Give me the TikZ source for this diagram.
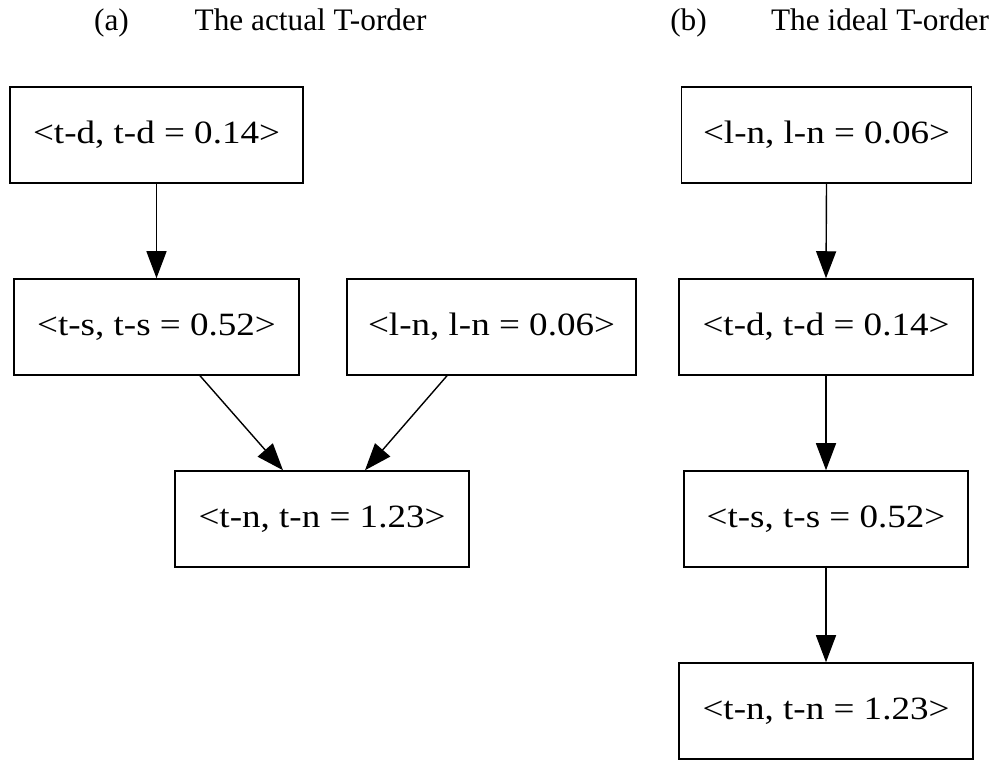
\documentclass[tikz,border=0pt]{standalone}
\usepackage{fontspec}
\setmainfont{Liberation Serif}
\newfontfamily\nodefont[FakeStretch=1.14]{Liberation Serif}
\usetikzlibrary{arrows.meta}
\tikzset{
  x=1pt,y=1pt,
  box/.style={draw, line width=1.5pt, inner sep=0pt, minimum height=96pt,
    font=\nodefont\fontsize{32.5}{38}\selectfont},
  edge/.style={line width=1.4pt, -{Triangle[length=27pt,width=20pt]}},
  ttl/.style={anchor=base, inner sep=0pt, font=\fontsize{31.3}{36}\selectfont}
}
\begin{document}
\begin{tikzpicture}
\useasboundingbox (0,0) rectangle (995,760);
% titles
\node[ttl] (ta) at (111.5,729) {(a)};
\node[ttl] (tat) at (310.5,729) {The actual T-order};
\node[ttl] (tb) at (688.5,729) {(b)};
\node[ttl] (tbt) at (880,729) {The ideal T-order};
% (a)
\node[box, minimum width=293pt] (A1) at (156.5,625) {<t-d, t-d = 0.14>};
\node[box, minimum width=285pt] (A2) at (156.5,433) {<t-s, t-s = 0.52>};
\node[box, minimum width=289pt] (A3) at (491.5,433) {<l-n, l-n = 0.06>};
\node[box, minimum width=294pt] (A4) at (322,241) {<t-n, t-n = 1.23>};
\draw[edge] (A1.south) -- (A2.north);
\draw[edge] ([xshift=43.5pt]A2.south) -- ([xshift=-39pt]A4.north);
\draw[edge] ([xshift=-44.5pt]A3.south) -- ([xshift=43pt]A4.north);
% (b)
\node[box, minimum width=290pt] (B1) at (826.5,625) {<l-n, l-n = 0.06>};
\node[box, minimum width=294pt] (B2) at (826,433) {<t-d, t-d = 0.14>};
\node[box, minimum width=284pt] (B3) at (826,241) {<t-s, t-s = 0.52>};
\node[box, minimum width=294pt] (B4) at (826,49) {<t-n, t-n = 1.23>};
\draw[edge] (B1.south) -- (B2.north);
\draw[edge] (B2.south) -- (B3.north);
\draw[edge] (B3.south) -- (B4.north);
\end{tikzpicture}
\end{document}
